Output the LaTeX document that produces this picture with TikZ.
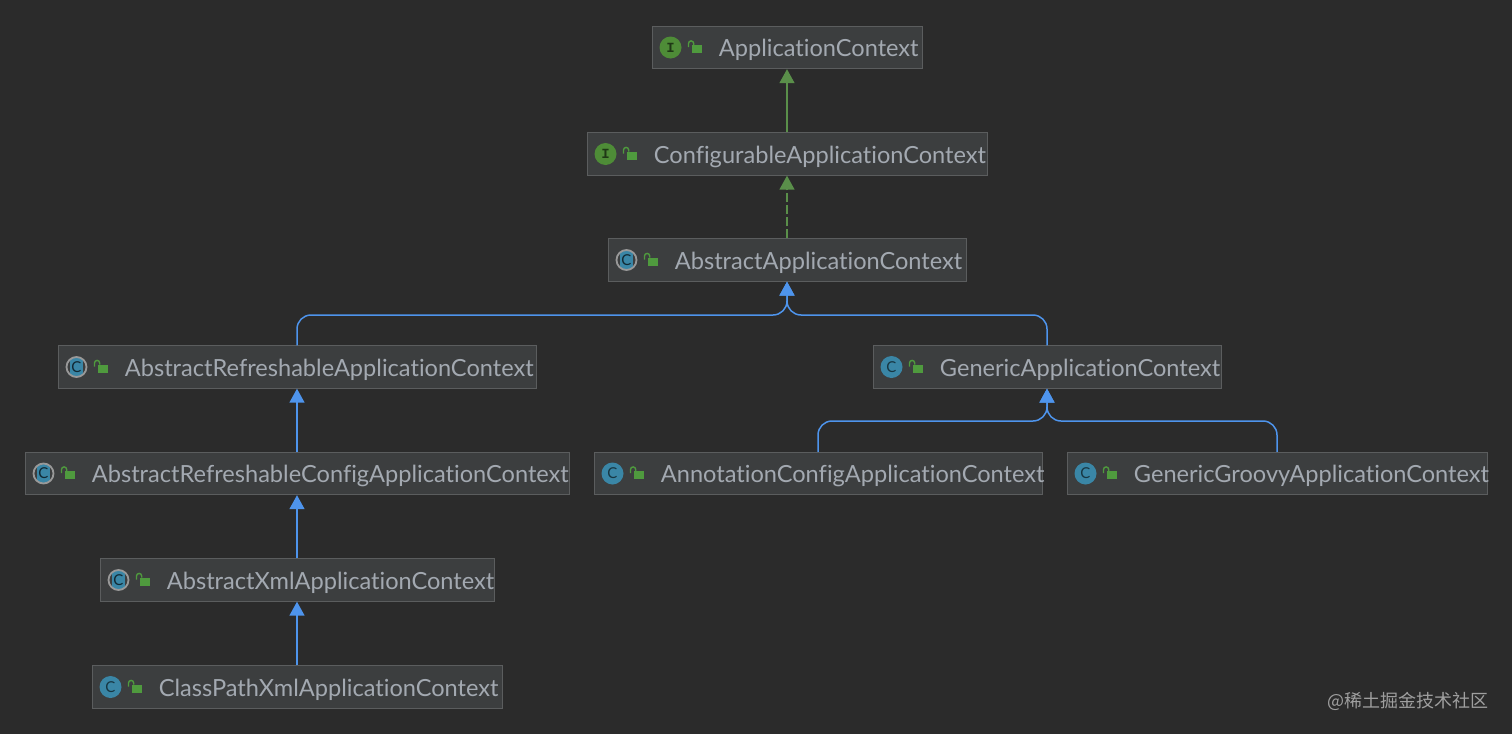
\documentclass[tikz,border=0pt]{standalone}
\usepackage{fontspec}
\setmainfont{Lato}[Ligatures=NoCommon]
\setmonofont{Liberation Mono}
\newfontfamily\cjkfont{Noto Sans CJK SC}
\usepackage{tikz}
\usetikzlibrary{arrows.meta}

\definecolor{canvasgray}{HTML}{2B2B2B}
\definecolor{boxgray}{HTML}{3C3E3F}
\definecolor{edgegray}{HTML}{5B5D5E}
\definecolor{labelgray}{HTML}{A3A9B1}
\definecolor{ifacegreen}{HTML}{4E8C37}
\definecolor{lockgreen}{HTML}{4F9A3E}
\definecolor{linkgreen}{HTML}{5A8F4A}
\definecolor{classteal}{HTML}{3A86A6}
\definecolor{linkblue}{HTML}{4E94EC}

\tikzset{
    classbox/.style={draw=edgegray, fill=boxgray, line width=0.5pt, inner sep=0pt, minimum height=21.2pt},
    classtext/.style={text=labelgray, font=\fontsize{11.8}{13}\selectfont, inner sep=0pt, anchor=west, yshift=-1.4pt},
    ifaceicon/.style={circle, fill=ifacegreen, minimum size=11pt, inner sep=0pt, text=ifacegreen!40!black, font=\ttfamily\bfseries\fontsize{7}{8}\selectfont},
    classicon/.style={circle, fill=classteal, minimum size=11pt, inner sep=0pt, text=classteal!40!black, font=\fontsize{7.5}{8}\selectfont},
    abstracticon/.style={circle, draw=gray!80, line width=0.9pt, minimum size=10pt, inner sep=0pt, text=classteal!30!black, font=\fontsize{7.5}{8}\selectfont,
        path picture={\fill[classteal] ([xshift=-3.4pt,yshift=-6pt]path picture bounding box.center) rectangle ([xshift=3.4pt,yshift=6pt]path picture bounding box.center);}},
    lockicon/.pic={
        \fill[lockgreen] (-1.2pt,-2.8pt) rectangle (3.6pt,1.2pt);
        \draw[lockgreen, line width=0.7pt] (-3pt,0.2pt) -- (-3pt,2pt) arc (180:0:1.3pt) -- (-0.4pt,1.2pt);
    },
    greenlink/.style={draw=linkgreen, line width=0.75pt, -{Triangle[width=7.5pt,length=7pt]}},
    bluelink/.style={draw=linkblue, line width=0.75pt, -{Triangle[width=7.5pt,length=7pt]}},
}

\begin{document}
\begin{tikzpicture}[x=0.5pt, y=-0.5pt]
    \useasboundingbox (0, 0) rectangle (1512, 734);

    % Canvas
    \fill[canvasgray] (0, 0) rectangle (1512, 734);

    % Boxes
    \node[classbox, minimum width=135pt] (app) at (787, 47.5) {};
    \node[classbox, minimum width=200pt] (config) at (787, 154) {};
    \node[classbox, minimum width=179pt] (abstract) at (787, 260) {};
    \node[classbox, minimum width=239pt] (refresh) at (297, 367) {};
    \node[classbox, minimum width=174pt] (generic) at (1047, 367) {};
    \node[classbox, minimum width=272pt] (refreshconfig) at (297, 473.5) {};
    \node[classbox, minimum width=224pt] (annotation) at (818, 473.5) {};
    \node[classbox, minimum width=210pt] (groovy) at (1277, 473.5) {};
    \node[classbox, minimum width=197pt] (xml) at (297, 580) {};
    \node[classbox, minimum width=205pt] (classpath) at (297, 687) {};

    % Class names
    \node[classtext] (appname) at ([xshift=33.5pt]app.west) {ApplicationContext};
    \node[classtext] (configname) at ([xshift=33.5pt]config.west) {ConfigurableApplicationContext};
    \node[classtext] (abstractname) at ([xshift=33.5pt]abstract.west) {AbstractApplicationContext};
    \node[classtext] (refreshname) at ([xshift=33.5pt]refresh.west) {AbstractRefreshableApplicationContext};
    \node[classtext] (genericname) at ([xshift=33.5pt]generic.west) {GenericApplicationContext};
    \node[classtext] (refreshconfigname) at ([xshift=33.5pt]refreshconfig.west) {AbstractRefreshableConfigApplicationContext};
    \node[classtext] (annotationname) at ([xshift=33.5pt]annotation.west) {AnnotationConfigApplicationContext};
    \node[classtext] (groovyname) at ([xshift=33.5pt]groovy.west) {GenericGroovyApplicationContext};
    \node[classtext] (xmlname) at ([xshift=33.5pt]xml.west) {AbstractXmlApplicationContext};
    \node[classtext] (classpathname) at ([xshift=33.5pt]classpath.west) {ClassPathXmlApplicationContext};

    % Kind icons
    \node[ifaceicon] (appicon) at ([xshift=9.5pt]app.west) {I};
    \node[ifaceicon] (configicon) at ([xshift=9.5pt]config.west) {I};
    \node[abstracticon] (abstracticn) at ([xshift=9.5pt]abstract.west) {C};
    \node[abstracticon] (refreshicon) at ([xshift=9.5pt]refresh.west) {C};
    \node[classicon] (genericicon) at ([xshift=9.5pt]generic.west) {C};
    \node[abstracticon] (refreshconfigicon) at ([xshift=9.5pt]refreshconfig.west) {C};
    \node[classicon] (annotationicon) at ([xshift=9.5pt]annotation.west) {C};
    \node[classicon] (groovyicon) at ([xshift=9.5pt]groovy.west) {C};
    \node[abstracticon] (xmlicon) at ([xshift=9.5pt]xml.west) {C};
    \node[classicon] (classpathicon) at ([xshift=9.5pt]classpath.west) {C};

    % Open locks
    \pic at ([xshift=21.5pt]app.west) {lockicon};
    \pic at ([xshift=21.5pt]config.west) {lockicon};
    \pic at ([xshift=21.5pt]abstract.west) {lockicon};
    \pic at ([xshift=21.5pt]refresh.west) {lockicon};
    \pic at ([xshift=21.5pt]generic.west) {lockicon};
    \pic at ([xshift=21.5pt]refreshconfig.west) {lockicon};
    \pic at ([xshift=21.5pt]annotation.west) {lockicon};
    \pic at ([xshift=21.5pt]groovy.west) {lockicon};
    \pic at ([xshift=21.5pt]xml.west) {lockicon};
    \pic at ([xshift=21.5pt]classpath.west) {lockicon};

    % Interface links
    \draw[greenlink] (config.north) -- (app.south);
    \draw[greenlink, dash pattern=on 4.5pt off 1.5pt] (abstract.north) -- (config.south);

    % Class links
    \coordinate (abstractjoin) at (787, 315);
    \coordinate (genericjoin) at (1047, 421);
    \draw[bluelink, rounded corners=7pt] (refresh.north) |- (abstractjoin) -- (abstract.south);
    \draw[bluelink, rounded corners=7pt] (generic.north) |- (abstractjoin) -- (abstract.south);
    \draw[bluelink, rounded corners=7pt] (annotation.north) |- (genericjoin) -- (generic.south);
    \draw[bluelink, rounded corners=7pt] (groovy.north) |- (genericjoin) -- (generic.south);
    \draw[bluelink] (refreshconfig.north) -- (refresh.south);
    \draw[bluelink] (xml.north) -- (refreshconfig.south);
    \draw[bluelink] (classpath.north) -- (xml.south);

    % Watermark
    \node[text=gray!75, font=\cjkfont\fontsize{9}{11}\selectfont, inner sep=0pt, anchor=east] (mark) at (1489, 701) {@稀土掘金技术社区};
\end{tikzpicture}
\end{document}
